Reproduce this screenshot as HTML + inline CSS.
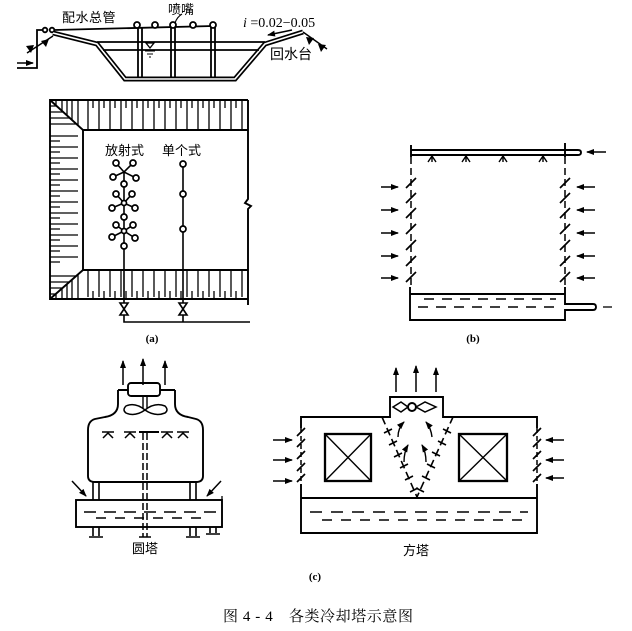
<!DOCTYPE html>
<html><head><meta charset="utf-8"><style>
html,body{margin:0;padding:0;background:#fff;}
svg{display:block;}
.t{font-family:"Liberation Sans","Noto Sans CJK SC",sans-serif;fill:#000;}
.s{font-family:"Liberation Serif","Noto Serif CJK SC",serif;fill:#000;}
</style></head><body>
<svg width="632" height="631" viewBox="0 0 632 631" xmlns="http://www.w3.org/2000/svg">
<defs>
<marker id="ah" markerUnits="userSpaceOnUse" markerWidth="8" markerHeight="6" viewBox="0 0 8 6" refX="7" refY="3" orient="auto"><path d="M0 0 L8 3 L0 6 z" fill="#000"/></marker>
</defs>
<rect width="632" height="631" fill="#fff"/>

<!-- ===== TOP SECTION ===== -->
<g stroke="#000" fill="none" stroke-width="1.8">
  <path d="M17 68 H37 V30 H45"/>
  <line x1="17" y1="63" x2="33" y2="63" marker-end="url(#ah)" stroke-width="1.5"/>
  <circle cx="45" cy="30" r="2.3" fill="#fff"/>
  <circle cx="52" cy="30" r="2.3" fill="#fff"/>
  <path d="M54 30 L213 26"/>
  <path d="M53 33 L97 44 L125 79 H235 L265 44 L303 32" stroke-width="5"/>
  <path d="M53 33 L97 44 L125 79 H235 L265 44 L303 32" stroke="#fff" stroke-width="1.6"/>
  <line x1="97" y1="42" x2="265" y2="42"/>
  <line x1="103" y1="50" x2="259" y2="50"/>
  <path d="M138 27 V78 M142 27 V78 M171 26 V78 M175 26 V78 M211 26 V78 M215 26 V78"/>
  <circle cx="137" cy="25" r="3" fill="#fff"/>
  <circle cx="155" cy="25" r="3" fill="#fff"/>
  <circle cx="173" cy="25" r="3" fill="#fff"/>
  <circle cx="193" cy="25" r="3" fill="#fff"/>
  <circle cx="213" cy="25" r="3" fill="#fff"/>
  <path d="M182 14 Q177 17 175 23" stroke-width="1.1"/>
  <path d="M146 43 L154 43 L150 48 Z" stroke-width="1.3"/>
  <path d="M145 51 H155 M147 54 H153 M149 57 H151" stroke-width="1.1"/>
  <path d="M27 53 L53 36" stroke-width="1.4"/>
  <path d="M303 32 L327 49" stroke-width="1.4"/>
  <line x1="292" y1="30" x2="268" y2="35" marker-end="url(#ah)" stroke-width="1.5"/>
</g>
<g fill="#000">
  <path d="M26 46 L34 45 L31 53 Z"/>
  <path d="M41 41 L49 39 L46 47 Z"/>
  <path d="M306 37 L314 38 L309 45 Z"/>
  <path d="M318 44 L326 45 L321 52 Z"/>
</g>
<text class="t" x="62" y="22" font-size="13" letter-spacing="0.5">配水总管</text>
<text class="t" x="168" y="14" font-size="13">喷嘴</text>
<text class="s" x="243" y="27" font-size="14"><tspan font-style="italic">i</tspan> =0.02−0.05</text>
<text class="t" x="270" y="59" font-size="14">回水台</text>

<!-- ===== (a) PLAN ===== -->
<g stroke="#000" fill="none" stroke-width="1.9">
  <path d="M248 100 H50 V299 H248"/>
  <path d="M248 130 H83 V270 H248"/>
  <path d="M248 100 V199 L245 203 L251 206 L248 209 V305"/>
  <path d="M50 100 L83 130 M50 299 L83 270"/>
</g>
<g stroke="#000" fill="none" stroke-width="1.3">
  <path d="M88 100V129M99 100V129M110 100V129M121 100V129M132 100V129M143 100V129M154 100V129M165 100V129M176 100V129M187 100V129M198 100V129M209 100V129M220 100V129M231 100V129M242 100V129"/>
  <path d="M93 100V108M104 100V108M115 100V108M126 100V108M137 100V108M148 100V108M159 100V108M170 100V108M181 100V108M192 100V108M203 100V108M214 100V108M225 100V108M236 100V108"/>
  <path d="M56 100V105M62 100V111M67 100V115M72 100V120M78 100V125"/>
  <path d="M50 136H78M50 147H78M50 158H78M50 169H78M50 180H78M50 191H78M50 202H78M50 213H78M50 224H78M50 235H78M50 246H78M50 257H78"/>
  <path d="M50 141H60M50 152H60M50 163H60M50 174H60M50 185H60M50 196H60M50 207H60M50 218H60M50 229H60M50 240H60M50 251H60M50 262H60"/>
  <path d="M50 106H56M50 112H63M50 118H70M50 124H76"/>
  <path d="M50 276H76M50 282H69M50 288H62M50 294H55"/>
  <path d="M88 270V297M99 270V297M110 270V297M121 270V297M132 270V297M143 270V297M154 270V297M165 270V297M176 270V297M187 270V297M198 270V297M209 270V297M220 270V297M231 270V297M242 270V297"/>
  <path d="M93 299V291M104 299V291M115 299V291M126 299V291M137 299V291M148 299V291M159 299V291M170 299V291M181 299V291M192 299V291M203 299V291M214 299V291M225 299V291M236 299V291"/>
  <path d="M56 299V294M62 299V288M67 299V284M72 299V280M78 299V274"/>
</g>
<g stroke="#000" fill="none" stroke-width="1.6">
  <path d="M124 172 V303 M124 172 L116 163 M124 172 L133 163 M124 172 L113 177 M124 172 L136 178"/>
  <path d="M124 203 L116 194 M124 203 L132 194 M124 203 L112 208 M124 203 L135 208"/>
  <path d="M124 231 L116 225 M124 231 L133 225 M124 231 L112 237 M124 231 L135 238"/>
  <path d="M183 164 V303"/>
  <path d="M120 303 H128 L120 315 H128 Z M179 303 H187 L179 315 H187 Z"/>
  <path d="M124 315 V322 H250 M183 315 V322"/>
</g>
<g stroke="#000" fill="#fff" stroke-width="1.7">
  <circle cx="116" cy="163" r="3"/><circle cx="133" cy="163" r="3"/><circle cx="113" cy="177" r="3"/><circle cx="136" cy="178" r="3"/>
  <circle cx="124" cy="184" r="3"/>
  <circle cx="116" cy="194" r="3"/><circle cx="132" cy="194" r="3"/><circle cx="112" cy="208" r="3"/><circle cx="135" cy="208" r="3"/><circle cx="124" cy="203" r="2.5"/>
  <circle cx="124" cy="217" r="3"/>
  <circle cx="116" cy="225" r="3"/><circle cx="133" cy="225" r="3"/><circle cx="112" cy="237" r="3"/><circle cx="135" cy="238" r="3"/><circle cx="124" cy="231" r="2.5"/>
  <circle cx="124" cy="246" r="3"/>
  <circle cx="183" cy="164" r="3"/><circle cx="183" cy="194" r="3"/><circle cx="183" cy="229" r="3"/>
</g>
<text class="t" x="105" y="155" font-size="13">放射式</text>
<text class="t" x="162" y="155" font-size="13">单个式</text>
<text class="s" x="152" y="342" font-size="11" font-weight="bold" text-anchor="middle">(a)</text>

<!-- ===== (b) ===== -->
<g stroke="#000" fill="none" stroke-width="1.9">
  <path d="M411 150 H578 Q581 150 581 152.5 Q581 155 578 155 H411"/>
  <path d="M411 145 V157 M565 143 V157"/>
  <line x1="606" y1="152" x2="587" y2="152" marker-end="url(#ah)" stroke-width="1.4"/>
  <path d="M432 156 L428 162 M432 156 L436 162 M432 156 V162 M466 156 L462 162 M466 156 L470 162 M466 156 V162 M503 156 L499 162 M503 156 L507 162 M503 156 V162 M543 156 L539 162 M543 156 L547 162 M543 156 V162" stroke-width="1.4"/>
  <path d="M411 157 V287 M565 157 V287" stroke-dasharray="7 4" stroke-width="1.5"/>
  <path d="M406 188 L416 178 M406 203 L416 193 M406 218 L416 208 M406 234 L416 224 M406 250 L416 240 M406 266 L416 256 M406 282 L416 272" stroke-width="1.7"/>
  <path d="M560 188 L570 178 M560 203 L570 193 M560 218 L570 208 M560 234 L570 224 M560 250 L570 240 M560 266 L570 256 M560 282 L570 272" stroke-width="1.7"/>
  <path d="M410 287 V320 H565 V310 H593 Q596 310 596 307 Q596 304 593 304 H565 V287"/>
  <line x1="410" y1="294" x2="565" y2="294"/>
  <line x1="603" y1="307" x2="612" y2="307" stroke-width="1.3"/>
  <path d="M424 299 H556" stroke-dasharray="10 8" stroke-width="1.4"/>
  <path d="M418 307 H562" stroke-dasharray="10 8" stroke-width="1.4"/>
</g>
<g stroke="#000" stroke-width="1.4" fill="none">
  <line x1="381" y1="187" x2="398" y2="187" marker-end="url(#ah)"/>
  <line x1="381" y1="210" x2="398" y2="210" marker-end="url(#ah)"/>
  <line x1="381" y1="233" x2="398" y2="233" marker-end="url(#ah)"/>
  <line x1="381" y1="256" x2="398" y2="256" marker-end="url(#ah)"/>
  <line x1="381" y1="278" x2="398" y2="278" marker-end="url(#ah)"/>
  <line x1="595" y1="187" x2="577" y2="187" marker-end="url(#ah)"/>
  <line x1="595" y1="210" x2="577" y2="210" marker-end="url(#ah)"/>
  <line x1="595" y1="233" x2="577" y2="233" marker-end="url(#ah)"/>
  <line x1="595" y1="256" x2="577" y2="256" marker-end="url(#ah)"/>
  <line x1="595" y1="278" x2="577" y2="278" marker-end="url(#ah)"/>
</g>
<text class="s" x="473" y="342" font-size="11" font-weight="bold" text-anchor="middle">(b)</text>

<!-- ===== (c) ROUND TOWER ===== -->
<g stroke="#000" fill="none" stroke-width="1.9">
  <line x1="123" y1="385" x2="123" y2="361" marker-end="url(#ah)" stroke-width="1.5"/>
  <line x1="143" y1="385" x2="143" y2="359" marker-end="url(#ah)" stroke-width="1.5"/>
  <line x1="165" y1="385" x2="165" y2="361" marker-end="url(#ah)" stroke-width="1.5"/>
  <rect x="128" y="383" width="32" height="13" rx="3"/>
  <path d="M118 390 H128 M160 390 H175"/>
  <path d="M118 390 V404 Q118 415 105 417 L95 419 Q88 421 88 430 V476 Q88 482 95 482 H196 Q203 482 203 476 V430 Q203 421 196 419 L188 417 Q175 415 175 404 V390"/>
  <path d="M143 396 V408 M147 396 V408" stroke-width="1.4"/>
  <path d="M145 410 Q135 402 126 406 Q122 410 126 413 Q135 417 145 410 Z M145 410 Q155 402 165 406 Q169 410 165 413 Q155 417 145 410 Z" stroke-width="1.5"/>
  <path d="M102 432 H114 M108 433 L103 438 M108 433 L113 438 M124 432 H136 M130 433 L125 438 M130 433 L135 438 M161 432 H173 M167 433 L162 438 M167 433 L172 438 M177 432 H189 M183 433 L178 438 M183 433 L188 438" stroke-width="1.5"/>
  <path d="M139 432 H159"/>
  <path d="M143 433 V537 M147 433 V537" stroke-dasharray="7 3" stroke-width="1.5"/>
  <path d="M93 482 V500 M99 482 V500 M190 482 V500 M196 482 V500" stroke-width="1.6"/>
  <rect x="76" y="500" width="146" height="27"/>
  <path d="M222 500 V496" stroke-width="1.3"/>
  <path d="M84 512 H216" stroke-dasharray="12 8" stroke-width="1.4"/>
  <path d="M96 518 H210" stroke-dasharray="10 9" stroke-width="1.4"/>
  <path d="M93 527 V536 M99 527 V536 M89 537 H103 M139 537 H151 M190 527 V536 M196 527 V536 M186 537 H200 M210 527 V533 M216 527 V533 M206 534 H220" stroke-width="1.6"/>
  <line x1="72" y1="481" x2="86" y2="496" marker-end="url(#ah)" stroke-width="1.5"/>
  <line x1="221" y1="481" x2="207" y2="496" marker-end="url(#ah)" stroke-width="1.5"/>
</g>
<text class="t" x="132" y="553" font-size="13">圆塔</text>

<!-- ===== (c) SQUARE TOWER ===== -->
<g stroke="#000" fill="none" stroke-width="1.9">
  <line x1="396" y1="392" x2="396" y2="368" marker-end="url(#ah)" stroke-width="1.5"/>
  <line x1="416" y1="392" x2="416" y2="366" marker-end="url(#ah)" stroke-width="1.5"/>
  <line x1="436" y1="392" x2="436" y2="368" marker-end="url(#ah)" stroke-width="1.5"/>
  <path d="M301 428 V417 H390 V397 H443 V417 H537 V428 M537 484 V533 H301 V484"/>
  <line x1="301" y1="498" x2="537" y2="498"/>
  <circle cx="412" cy="407" r="4"/>
  <path d="M408 407 L401 402 L393 407 L401 412 Z M416 407 L425 402 L436 407 L425 412 Z" stroke-width="1.5"/>
  <rect x="325" y="434" width="46" height="47" stroke-width="2.3"/>
  <path d="M325 434 L371 481 M371 434 L325 481" stroke-width="1.4"/>
  <rect x="459" y="434" width="48" height="47" stroke-width="2.3"/>
  <path d="M459 434 L507 481 M507 434 L459 481" stroke-width="1.4"/>
  <path d="M382 417 L417 497 L453 417" stroke-dasharray="8 4" stroke-width="1.6"/>
  <path d="M384 433 L392 429 M389 445 L397 441 M394 457 L402 453 M400 468 L408 464 M405 480 L413 476 M410 492 L418 488" stroke-width="1.6"/>
  <path d="M443 429 L451 433 M438 441 L446 445 M432 452 L440 456 M427 464 L435 468 M422 476 L430 480 M416 488 L424 492" stroke-width="1.6"/>
  <path d="M301 428 V484 M537 428 V484" stroke-dasharray="5 3" stroke-width="1.5"/>
  <path d="M297 436 L305 428 M297 447 L305 439 M297 459 L305 451 M297 471 L305 463 M297 482 L305 474" stroke-width="1.7"/>
  <path d="M533 436 L541 428 M533 447 L541 439 M533 459 L541 451 M533 471 L541 463 M533 482 L541 474" stroke-width="1.7"/>
  <path d="M310 512 H528" stroke-dasharray="12 9" stroke-width="1.4"/>
  <path d="M322 520 H522" stroke-dasharray="10 9" stroke-width="1.4"/>
</g>
<g stroke="#000" fill="none" stroke-width="1.4">
  <path d="M398 437 Q398 428 404 422" marker-end="url(#ah)"/>
  <path d="M432 437 Q431 428 426 422" marker-end="url(#ah)"/>
  <path d="M404 462 Q404 452 408 445" marker-end="url(#ah)"/>
  <path d="M426 462 Q426 452 422 445" marker-end="url(#ah)"/>
  <line x1="273" y1="440" x2="292" y2="440" marker-end="url(#ah)"/>
  <line x1="273" y1="460" x2="292" y2="460" marker-end="url(#ah)"/>
  <line x1="273" y1="481" x2="292" y2="481" marker-end="url(#ah)"/>
  <line x1="564" y1="440" x2="546" y2="440" marker-end="url(#ah)"/>
  <line x1="564" y1="460" x2="546" y2="460" marker-end="url(#ah)"/>
  <line x1="564" y1="478" x2="546" y2="478" marker-end="url(#ah)"/>
</g>
<text class="t" x="403" y="555" font-size="13">方塔</text>

<text class="s" x="315" y="580" font-size="11" font-weight="bold" text-anchor="middle">(c)</text>
<text class="s" x="223" y="621" font-size="15" textLength="190" lengthAdjust="spacing" style="font-family:'Liberation Serif','Noto Serif CJK SC',serif">图 4 - 4　各类冷却塔示意图</text>
</svg>
</body></html>
